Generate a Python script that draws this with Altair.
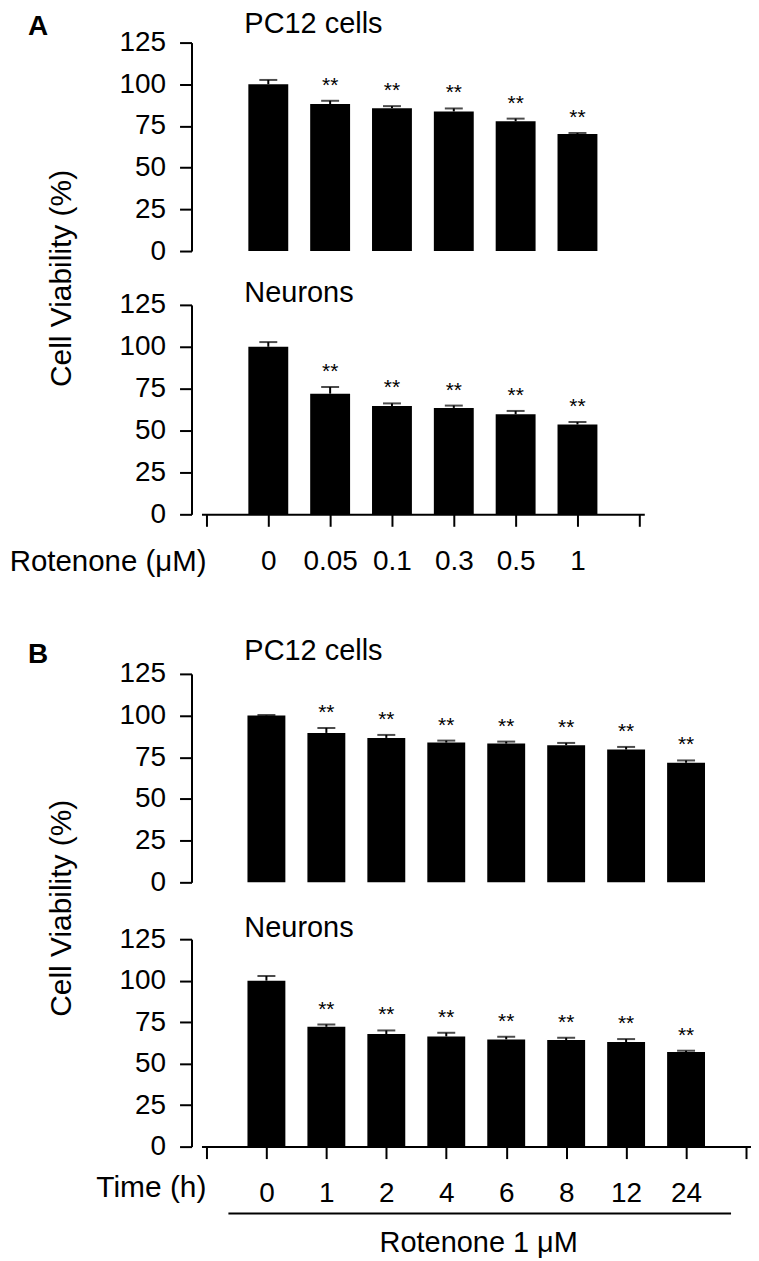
import json
import altair as alt
import pandas as pd

FONT = "Liberation Sans"

# ---------------- data ----------------
A_conc = ["0", "0.05", "0.1", "0.3", "0.5", "1"]
A_pc12_mean = [100, 88.1, 85.7, 83.7, 77.8, 70.2]
A_pc12_err = [2.6, 2.0, 1.2, 1.8, 1.6, 0.6]
A_neu_mean = [100, 72.0, 64.6, 63.5, 59.7, 53.6]
A_neu_err = [2.8, 4.0, 1.6, 1.4, 2.0, 1.5]
A_sig = ["", "**", "**", "**", "**", "**"]

B_time = ["0", "1", "2", "4", "6", "8", "12", "24"]
B_pc12_mean = [100, 89.6, 86.6, 83.8, 83.2, 82.2, 79.6, 71.7]
B_pc12_err = [0.3, 3.0, 1.8, 1.2, 1.2, 1.4, 1.6, 1.4]
B_neu_mean = [100, 72.2, 67.8, 66.4, 64.6, 64.2, 63.0, 57.0]
B_neu_err = [2.8, 1.4, 2.2, 2.2, 1.6, 1.4, 1.8, 0.8]
B_sig = ["", "**", "**", "**", "**", "**", "**", "**"]

Y_TICKS = [0, 25, 50, 75, 100, 125]


def frame(labels, means, errs, sig):
    return pd.DataFrame({
        "pos": list(range(1, len(labels) + 1)),
        "label": labels,
        "mean": means,
        "top": [m + e for m, e in zip(means, errs)],
        "sig": sig,
    })


def label(text, x, y, size=29, bold=False, align="left", angle=0, baseline="middle"):
    kw = dict(fontSize=size, font=FONT, align=align, baseline=baseline, color="black")
    if bold:
        kw["fontWeight"] = "bold"
    if angle:
        kw["angle"] = angle
    return alt.Chart(pd.DataFrame({"t": [text]})).mark_text(**kw).encode(
        x=alt.value(x), y=alt.value(y), text="t:N"
    )


def panel(df, width, height, bar_size, title, title_y, bottom, extras):
    n = len(df)
    if bottom:
        labs = [""] + list(df["label"]) + [""]
        xaxis = alt.Axis(
            values=list(range(n + 2)),
            labelExpr=json.dumps(labs) + "[datum.value]",
            domainColor="black", domainWidth=2,
            tickColor="black", tickWidth=2, tickSize=12,
            labelFont=FONT, labelFontSize=28, labelColor="black",
            labelPadding=21, labelFlush=False, labelOverlap=False,
            grid=False, title=None,
        )
    else:
        xaxis = None
    yaxis = alt.Axis(
        values=Y_TICKS, domainColor="black", domainWidth=2,
        tickColor="black", tickWidth=2, tickSize=12,
        labelFont=FONT, labelFontSize=28, labelColor="black",
        labelPadding=14, offset=10, grid=False, title=None,
    )
    xs = alt.Scale(domain=[0, n + 1], nice=False, zero=False)
    ys = alt.Scale(domain=[0, 125], nice=False)

    def X():
        return alt.X("pos:Q", scale=xs, axis=xaxis)

    def Y(f):
        return alt.Y(f + ":Q", scale=ys, axis=yaxis)

    base = alt.Chart(df)
    bars = base.mark_bar(size=bar_size, color="black").encode(x=X(), y=Y("mean"))
    whisk = base.mark_rule(color="black", strokeWidth=2).encode(x=X(), y=Y("mean"), y2="top:Q")
    cap = base.mark_tick(color="black", size=18, thickness=2, orient="horizontal").encode(x=X(), y=Y("top"))
    stars = base.mark_text(fontSize=21, font=FONT, dy=-9, baseline="alphabetic", color="black").encode(
        x=X(), y=Y("top"), text="sig:N"
    )
    ttl = label(title, 43, title_y)
    return alt.layer(whisk, bars, cap, stars, ttl, *extras).properties(width=width, height=height)


def spacer(h):
    return alt.Chart(pd.DataFrame({"t": [0]})).mark_point(opacity=0).encode(
        x=alt.value(0), y=alt.value(0)
    ).properties(width=10, height=h)


dA1 = frame(A_conc, A_pc12_mean, A_pc12_err, A_sig)
dA2 = frame(A_conc, A_neu_mean, A_neu_err, A_sig)
dB1 = frame(B_time, B_pc12_mean, B_pc12_err, B_sig)
dB2 = frame(B_time, B_neu_mean, B_neu_err, B_sig)

anchor = alt.Chart(pd.DataFrame({"t": [0]})).mark_rule(opacity=0, strokeWidth=1).encode(
    x=alt.value(-194), y=alt.value(-33), y2=alt.value(-30)
)

A1 = panel(dA1, 444, 209, 40, "PC12 cells", -19, False, [
    anchor,
    label("A", -174, -16, size=28, bold=True),
    label("Cell Viability (%)", -140, 236.5, size=30, angle=270, align="center"),
])
A2 = panel(dA2, 444, 210, 40, "Neurons", -11.6, True, [
    label("Rotenone (μM)", 5, 257.5, size=29.5, align="right"),
])
B1 = panel(dB1, 551, 209, 38, "PC12 cells", -22.6, False, [
    label("B", -174, -19, size=28, bold=True),
    label("Cell Viability (%)", -140, 235, size=30, angle=270, align="center"),
])
B2 = panel(dB2, 551, 208, 38, "Neurons", -11.6, True, [
    label("Time (h)", 5, 249.5, size=30, align="right"),
    alt.Chart(pd.DataFrame({"t": [0]})).mark_rule(color="black", strokeWidth=2).encode(
        x=alt.value(27), x2=alt.value(531), y=alt.value(275)
    ),
    label("Rotenone 1 μM", 278, 304.5, size=29, align="center"),
])

chart = (
    alt.vconcat(A1, spacer(54), A2, spacer(160), B1, spacer(57), B2, spacing=0, bounds="flush")
    .properties(padding=0)
    .configure(font=FONT)
    .configure_view(stroke=None, strokeWidth=0)
)

chart.save("out.html", embed_options={"renderer": "svg", "actions": False})
